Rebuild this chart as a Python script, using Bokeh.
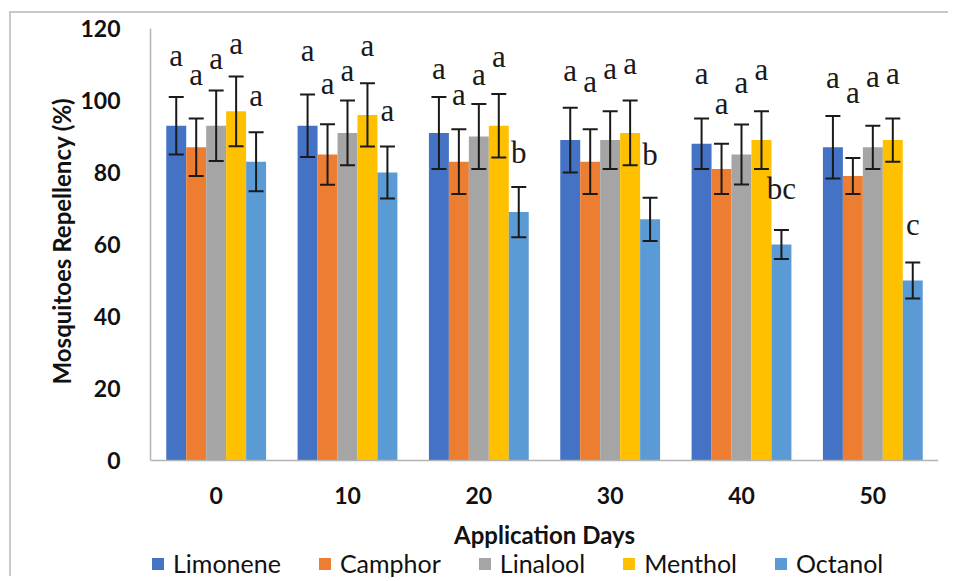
from bokeh.plotting import figure
from bokeh.models import (ColumnDataSource, FactorRange, Range1d, Whisker, TeeHead,
                          FixedTicker, Legend, LegendItem, Title)
from bokeh.transform import dodge
from bokeh.core.properties import value
from bokeh.embed import file_html
from bokeh.resources import INLINE

# ---------------- data ----------------
days = ["0", "10", "20", "30", "40", "50"]
series = ["Limonene", "Camphor", "Linalool", "Menthol", "Octanol"]

limonene = [93, 93, 91, 89, 88, 87]
camphor = [87, 85, 83, 83, 81, 79]
linalool = [93, 91, 90, 89, 85, 87]
menthol = [97, 96, 93, 91, 89, 89]
octanol = [83, 80, 69, 67, 60, 50]

limonene_err = [8.0, 8.7, 10.0, 9.0, 7.0, 8.7]
camphor_err = [8.0, 8.4, 9.0, 9.0, 7.0, 5.0]
linalool_err = [9.8, 9.0, 9.0, 8.0, 8.3, 6.0]
menthol_err = [9.7, 8.8, 8.8, 9.0, 8.0, 6.0]
octanol_err = [8.2, 7.2, 7.0, 6.0, 4.0, 5.0]

limonene_sig = ["a", "a", "a", "a", "a", "a"]
camphor_sig = ["a", "a", "a", "a", "a", "a"]
linalool_sig = ["a", "a", "a", "a", "a", "a"]
menthol_sig = ["a", "a", "a", "a", "a", "a"]
octanol_sig = ["a", "a", "b", "b", "bc", "c"]

# heights (in % units) at which the significance letters sit
limonene_sig_y = [113.2, 114.6, 109.7, 109.3, 108.2, 107.2]
camphor_sig_y = [108.1, 105.6, 102.6, 106.0, 100.0, 103.0]
linalool_sig_y = [112.5, 109.1, 108.1, 109.7, 105.8, 107.4]
menthol_sig_y = [116.8, 116.2, 113.0, 111.0, 109.5, 108.2]
octanol_sig_y = [102.3, 98.0, 86.4, 85.9, 76.5, 66.5]

y_ticks = [0, 20, 40, 60, 80, 100, 120]
y_max = 120
y_title = "Mosquitoes Repellency (%)"
x_title = "Application Days"

values = [limonene, camphor, linalool, menthol, octanol]
errors = [limonene_err, camphor_err, linalool_err, menthol_err, octanol_err]
sigs = [limonene_sig, camphor_sig, linalool_sig, menthol_sig, octanol_sig]
sig_ys = [limonene_sig_y, camphor_sig_y, linalool_sig_y, menthol_sig_y, octanol_sig_y]
colors = ["#4472C4", "#ED7D31", "#A5A5A5", "#FFC000", "#5B9BD5"]

# ---------------- figure ----------------
W, H = 939, 565
FL, FR, FT = 139, 12, 15
PLOT_H = 432                      # pixel height of the 0..120 value band
frame_h = H - FT                  # frame runs to the bottom of the canvas
y_lo = -(frame_h - PLOT_H) * y_max / PLOT_H   # room below 0 for axis texts + legend

p = figure(width=W, height=H, x_range=FactorRange(*days, range_padding=0),
           y_range=Range1d(y_lo, y_max), output_backend="svg", toolbar_location=None,
           min_border_left=FL, min_border_right=FR, min_border_top=FT,
           min_border_bottom=0)
# chart-area frame (top and left edges visible in the reference)
p.styles = {"border-top": "2px solid #c8c8c8", "border-left": "2px solid #c8c8c8",
            "margin-left": "9px", "margin-top": "11px"}
p.outline_line_color = None
p.xgrid.grid_line_color = None
p.ygrid.grid_line_color = None
p.background_fill_color = "white"
p.border_fill_color = "white"

bw = 0.152
items = []
for i, name in enumerate(series):
    vals = values[i]
    errs = errors[i]
    src = ColumnDataSource(dict(
        day=days, val=vals,
        upper=[v + e for v, e in zip(vals, errs)],
        lower=[v - e for v, e in zip(vals, errs)],
        sig=sigs[i], sy=sig_ys[i]))
    off = (i - 2) * bw
    xd = dodge("day", off, range=p.x_range)
    r = p.vbar(x=xd, top="val", width=bw, source=src, fill_color=colors[i],
               line_color=None)
    items.append(LegendItem(label=name, renderers=[r]))
    wh = Whisker(base=dodge("day", off, range=p.x_range), upper="upper", lower="lower",
                 source=src, line_color="#1a1a1a", line_width=2, level="overlay",
                 upper_head=TeeHead(size=15, line_color="#1a1a1a", line_width=2),
                 lower_head=TeeHead(size=15, line_color="#1a1a1a", line_width=2))
    p.add_layout(wh)
    p.text(x=dodge("day", off, range=p.x_range), y="sy", text="sig", source=src,
           text_font=value("Liberation Serif"), text_font_size="31px",
           text_align="center", text_baseline="alphabetic", y_offset=3,
           text_color="#1a1a1a")

# axes
for ax in (p.xaxis[0], p.yaxis[0]):
    ax.axis_line_color = "#b4b4b4"
    ax.axis_line_width = 1.5
    ax.major_tick_line_color = None
    ax.minor_tick_line_color = None
    ax.major_label_text_font = "Lato"
    ax.major_label_text_font_style = "bold"
    ax.major_label_text_font_size = "23px"
    ax.major_label_text_color = "#111111"
    ax.axis_label_text_font = "Lato"
    ax.axis_label_text_color = "#111111"

p.yaxis.ticker = FixedTicker(ticks=y_ticks)
p.yaxis.bounds = (0, y_max)
p.yaxis.major_label_standoff = 24

# y title as a side title so it can be centred on the 0..120 band
yt = Title(text=y_title, align="left", offset=194, vertical_align="bottom",
           standoff=4, text_font="Lato", text_font_size="24px",
           text_font_style="bold", text_color="#111111")
p.add_layout(yt, "left")

p.xaxis.fixed_location = 0
p.xaxis.major_label_standoff = 20
p.xaxis.axis_label = x_title
p.xaxis.axis_label_text_font_size = "24px"
p.xaxis.axis_label_text_font_style = "bold"
p.xaxis.axis_label_standoff = 13

legend = Legend(items=items, orientation="horizontal", location=(0, 0),
                glyph_width=15, glyph_height=15, label_standoff=8, spacing=36,
                padding=0, margin=0, border_line_color=None,
                background_fill_alpha=0,
                label_text_font="Lato", label_text_font_size="25px",
                label_text_color="#111111")
p.add_layout(legend, "center")

open("out.html", "w").write(file_html(p, INLINE))
